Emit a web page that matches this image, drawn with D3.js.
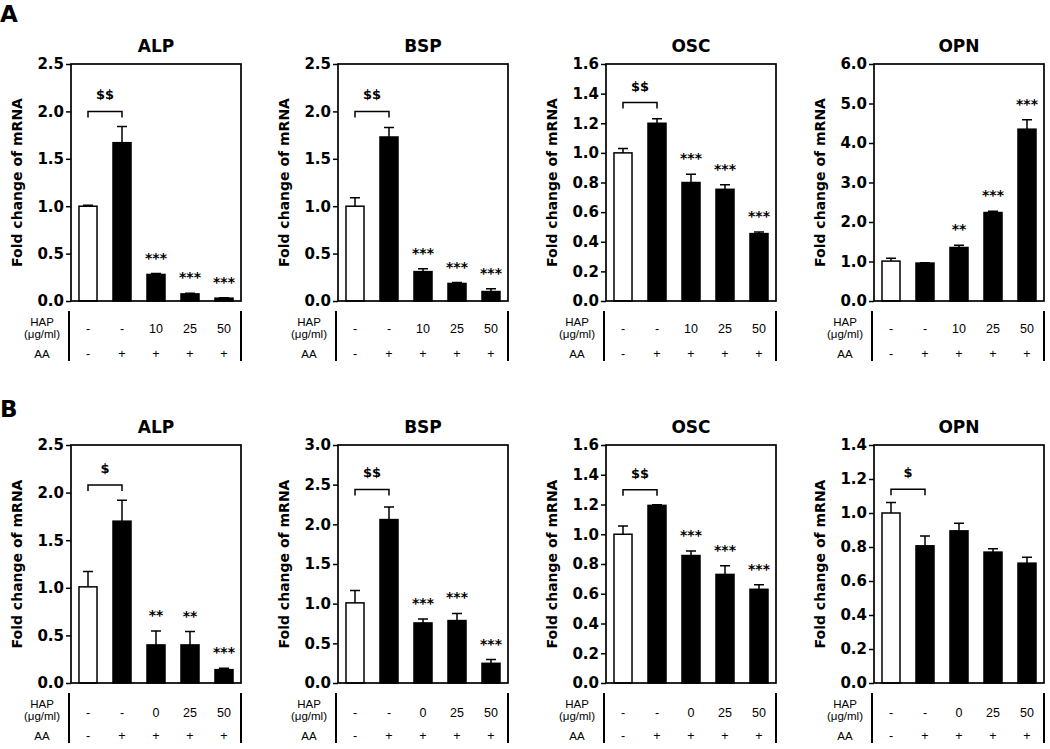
<!DOCTYPE html>
<html>
<head>
<meta charset="utf-8">
<script src="https://cdn.jsdelivr.net/npm/d3@7/dist/d3.min.js"></script>
<style>
  body { margin: 0; background: #fff; }
</style>
</head>
<body>
<svg id="fig" width="1050" height="749"></svg>
<script>
// genes shown in each row
const genes = ["ALP", "BSP", "OSC", "OPN"];

// treatment table rows
const hapA = ["-", "-", "10", "25", "50"];
const hapB = ["-", "-", "0", "25", "50"];
const aaRow = ["-", "+", "+", "+", "+"];

// row A: mean fold change and upper error
const aALP = [1.0, 1.67, 0.28, 0.075, 0.03];
const aALPErr = [0.01, 0.17, 0.01, 0.008, 0.005];
const aBSP = [1.0, 1.73, 0.31, 0.185, 0.10];
const aBSPErr = [0.09, 0.10, 0.03, 0.01, 0.03];
const aOSC = [1.0, 1.20, 0.80, 0.754, 0.455];
const aOSCErr = [0.03, 0.03, 0.055, 0.03, 0.01];
const aOPN = [1.01, 0.96, 1.355, 2.24, 4.35];
const aOPNErr = [0.07, 0.01, 0.055, 0.03, 0.24];

// row B
const bALP = [1.01, 1.70, 0.40, 0.40, 0.14];
const bALPErr = [0.16, 0.22, 0.145, 0.14, 0.015];
const bBSP = [1.01, 2.06, 0.757, 0.787, 0.248];
const bBSPErr = [0.155, 0.16, 0.05, 0.09, 0.047];
const bOSC = [1.0, 1.194, 0.857, 0.73, 0.63];
const bOSCErr = [0.055, 0.005, 0.03, 0.058, 0.03];
const bOPN = [1.0, 0.807, 0.895, 0.77, 0.705];
const bOPNErr = [0.062, 0.057, 0.044, 0.02, 0.035];

// y axis extents
const yMaxA = [2.5, 2.5, 1.6, 6.0];
const yStepA = [0.5, 0.5, 0.2, 1.0];
const yMaxB = [2.5, 3.0, 1.6, 1.4];
const yStepB = [0.5, 0.5, 0.2, 0.2];

// significance marks
const sigA = [
  ["", "", "***", "***", "***"],
  ["", "", "***", "***", "***"],
  ["", "", "***", "***", "***"],
  ["", "", "**", "***", "***"]
];
const sigB = [
  ["", "", "**", "**", "***"],
  ["", "", "***", "***", "***"],
  ["", "", "***", "***", "***"],
  ["", "", "", "", ""]
];
// bracket between bar 1 and bar 2 (level in data units)
const bracketA = [2.0, 2.0, 1.34, null];
const bracketLabA = ["$$", "$$", "$$", ""];
const bracketB = [2.08, 2.44, 1.30, 1.14];
const bracketLabB = ["$", "$$", "$$", "$"];

const svg = d3.select("#fig");
const boldFont = "'DejaVu Sans', sans-serif";
const plainFont = "'Liberation Sans', Arial, sans-serif";

// layout
const lefts = [71, 338, 606, 874];
const plotW = 170;

const rows = [
  { label: "A", top: 64, bottom: 301, labelY: 22, hap: hapA, valY: 32,
    means: [aALP, aBSP, aOSC, aOPN], errs: [aALPErr, aBSPErr, aOSCErr, aOPNErr],
    yMax: yMaxA, yStep: yStepA, sig: sigA, br: bracketA, brLab: bracketLabA },
  { label: "B", top: 445, bottom: 683, labelY: 417, hap: hapB, valY: 34,
    means: [bALP, bBSP, bOSC, bOPN], errs: [bALPErr, bBSPErr, bOSCErr, bOPNErr],
    yMax: yMaxB, yStep: yStepB, sig: sigB, br: bracketB, brLab: bracketLabB }
];

rows.forEach(row => {
  svg.append("text")
    .attr("x", 0).attr("y", row.labelY)
    .style("font", "bold 23px " + boldFont)
    .text(row.label);

  genes.forEach((gene, gi) => {
    drawPanel(row, gi, gene);
  });
});

function drawPanel(row, gi, gene) {
  let left = lefts[gi];
  let right = left + plotW;
  let top = row.top, bottom = row.bottom;
  let vals = row.means[gi];
  let errs = row.errs[gi];
  let g = svg.append("g");

  let x = d3.scaleBand().domain(d3.range(5)).range([left, right])
    .paddingInner(0.47).paddingOuter(0.235);
  let y = d3.scaleLinear().domain([0, row.yMax[gi]]).range([bottom, top]);
  let ticks = d3.range(0, row.yMax[gi] + row.yStep[gi] / 2, row.yStep[gi]);

  // title
  g.append("text")
    .attr("x", (left + right) / 2).attr("y", top - 12)
    .attr("text-anchor", "middle")
    .style("font", "bold 17px " + boldFont)
    .text(gene);

  // y axis
  let yAxis = d3.axisLeft(y).tickValues(ticks).tickSize(5).tickPadding(2)
    .tickFormat(d3.format(".1f"));
  let ax = g.append("g").attr("transform", "translate(" + left + ",0)").call(yAxis);
  ax.select(".domain").remove();
  ax.selectAll("line").attr("stroke", "#000").attr("stroke-width", 1.5);
  ax.selectAll("text")
    .style("font", "bold 15px " + boldFont)
    .attr("fill", "#000");

  // y label
  g.append("text")
    .attr("transform", "translate(" + (left - 49) + "," + ((top + bottom) / 2) + ") rotate(-90)")
    .attr("text-anchor", "middle")
    .style("font", "bold 14px " + boldFont)
    .text("Fold change of mRNA");

  // bars
  g.selectAll(".bar").data(vals).join("rect")
    .attr("class", "bar")
    .attr("x", (d, i) => x(i))
    .attr("width", x.bandwidth())
    .attr("y", d => y(d))
    .attr("height", d => bottom - y(d))
    .attr("fill", (d, i) => i === 0 ? "#fff" : "#000")
    .attr("stroke", "#000")
    .attr("stroke-width", 1.5);

  // error bars (upper only)
  let cx = i => x(i) + x.bandwidth() / 2;
  g.selectAll(".err").data(vals).join("path")
    .attr("class", "err")
    .attr("fill", "none")
    .attr("stroke", "#000")
    .attr("stroke-width", 1.5)
    .attr("d", (d, i) => {
      let y0 = y(d), y1 = y(d + errs[i]);
      return "M" + cx(i) + "," + y0 + "V" + y1 + "M" + (cx(i) - 5) + "," + y1 + "H" + (cx(i) + 5);
    });

  // significance stars
  g.selectAll(".sig").data(row.sig[gi]).join("text")
    .attr("class", "sig")
    .attr("x", (d, i) => cx(i))
    .attr("y", (d, i) => y(vals[i] + errs[i]) - 11)
    .attr("text-anchor", "middle")
    .style("font", "bold 14px " + boldFont)
    .text(d => d);

  // bracket between control groups
  if (row.br[gi] !== null) {
    let by = y(row.br[gi]);
    g.append("path")
      .attr("fill", "none").attr("stroke", "#000").attr("stroke-width", 1.5)
      .attr("d", "M" + cx(0) + "," + (by + 6) + "V" + by + "H" + cx(1) + "V" + (by + 6));
    g.append("text")
      .attr("x", (cx(0) + cx(1)) / 2).attr("y", by - 12)
      .attr("text-anchor", "middle")
      .style("font", "bold 13px " + boldFont)
      .text(row.brLab[gi]);
  }

  // plot frame
  g.append("rect")
    .attr("x", left).attr("y", top)
    .attr("width", plotW).attr("height", bottom - top)
    .attr("fill", "none").attr("stroke", "#000").attr("stroke-width", 1.7);

  // treatment table
  let tTop = bottom + 10, tBot = bottom + 60;
  [left - 2, right].forEach(lx => {
    g.append("line")
      .attr("x1", lx).attr("x2", lx).attr("y1", tTop).attr("y2", tBot)
      .attr("stroke", "#000").attr("stroke-width", 2);
  });
  let rowX = left - 29;
  g.append("text").attr("x", rowX).attr("y", bottom + 25).attr("text-anchor", "middle")
    .style("font", "11.5px " + plainFont).text("HAP");
  g.append("text").attr("x", rowX).attr("y", bottom + 37).attr("text-anchor", "middle")
    .style("font", "11.5px " + plainFont).text("(μg/ml)");
  g.append("text").attr("x", rowX).attr("y", bottom + 57).attr("text-anchor", "middle")
    .style("font", "11.5px " + plainFont).text("AA");

  g.selectAll(".hap").data(row.hap).join("text")
    .attr("class", "hap")
    .attr("x", (d, i) => cx(i)).attr("y", bottom + row.valY)
    .attr("text-anchor", "middle")
    .style("font", "12.5px " + plainFont)
    .text(d => d);
  g.selectAll(".aa").data(aaRow).join("text")
    .attr("class", "aa")
    .attr("x", (d, i) => cx(i)).attr("y", bottom + 57)
    .attr("text-anchor", "middle")
    .style("font", "12.5px " + plainFont)
    .text(d => d);
}
</script>
</body>
</html>
